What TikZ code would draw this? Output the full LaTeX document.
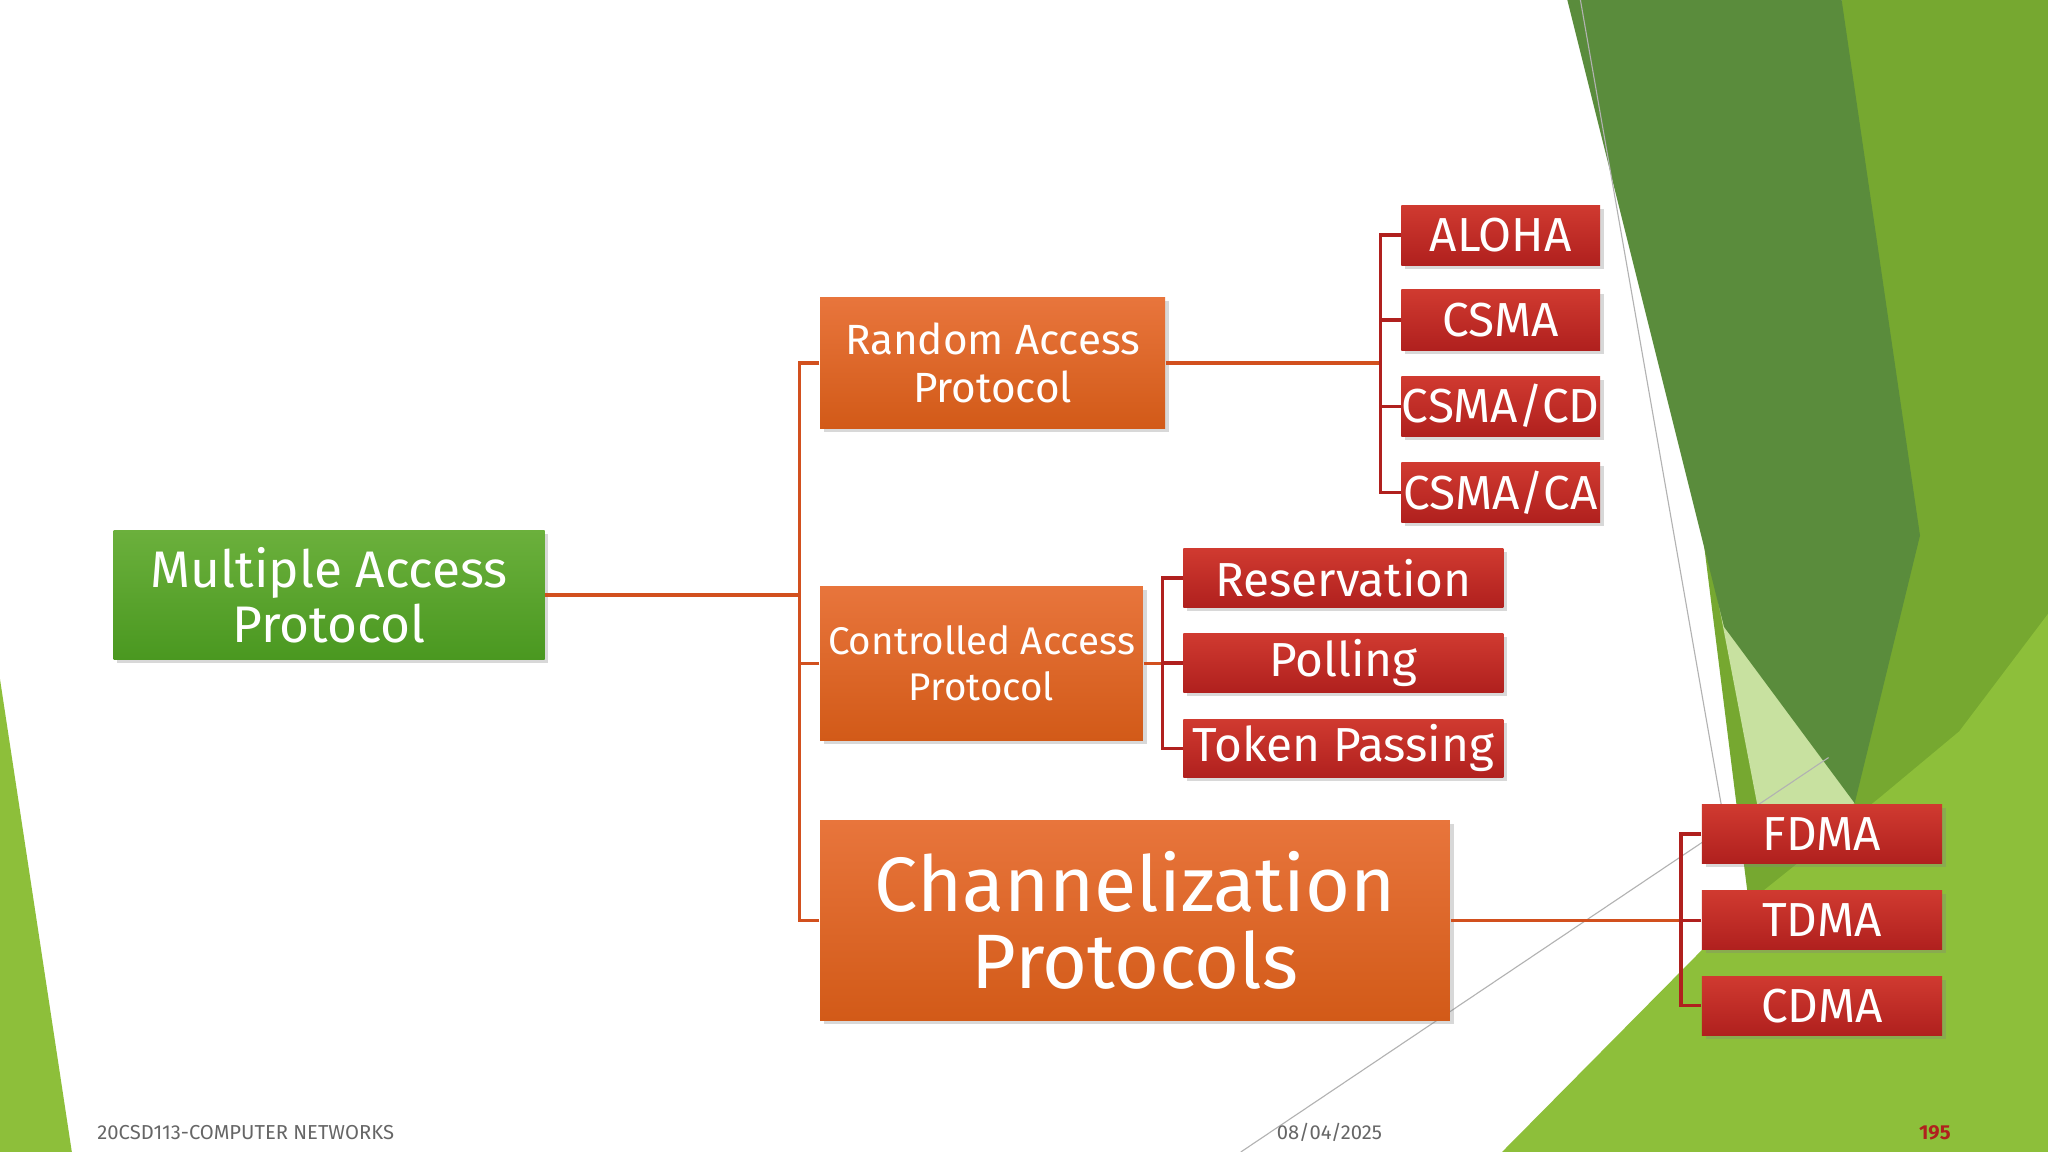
\documentclass[tikz,border=0pt]{standalone}
\usepackage{fontspec}
\setmainfont{Fira Sans}
\usetikzlibrary{shadows}
\definecolor{og1}{HTML}{E8753C}\definecolor{og2}{HTML}{D25A18}
\definecolor{gr1}{HTML}{6BB03C}\definecolor{gr2}{HTML}{4A9820}
\definecolor{rd1}{HTML}{D03A30}\definecolor{rd2}{HTML}{B0201E}
\definecolor{ln}{HTML}{D2501E}
\tikzset{
 box/.style={inner sep=0pt,align=center,text=white,drop shadow={shadow xshift=1pt,shadow yshift=-1pt,opacity=0.3}},
 orange/.style={box,top color=og1,bottom color=og2},
 green/.style={box,top color=gr1,bottom color=gr2},
 red/.style={box,top color=rd1,bottom color=rd2,font=\fontsize{13}{15}\selectfont},
 conn/.style={draw=ln,line width=0.9pt},
 foot/.style={inner sep=0pt,font=\fontsize{5.5}{6}\selectfont,text=gray!80!black}
}
\begin{document}
\begin{tikzpicture}[x=0.0125cm,y=-0.0125cm]
\useasboundingbox (0,0) rectangle (1568,882);
\fill[white] (0,0) rectangle (1568,882);
% background shapes
\fill[color={rgb,255:red,118;green,168;blue,48}] (1410,0)--(1568,0)--(1568,882)--(1340,700)--(1300,380)--cycle;
\fill[color={rgb,255:red,200;green,225;blue,160}] (1300,380)--(1330,420)--(1420,615)--(1350,640)--cycle;
\fill[color={rgb,255:red,90;green,140;blue,60}] (1200,0)--(1410,0)--(1470,410)--(1420,615)--(1320,480)--cycle;
\fill[color={rgb,255:red,141;green,191;blue,58}] (1150,882)--(1568,882)--(1568,470)--(1500,560)--(1440,610)--(1340,690)--cycle;
\fill[color={rgb,255:red,141;green,191;blue,58}] (0,520)--(55,882)--(0,882)--cycle;
\draw[gray!60,line width=0.3pt] (1210,0)--(1322,640);
\draw[gray!60,line width=0.3pt] (950,882)--(1400,580);
% nodes
\node[green,minimum width=4.125cm,minimum height=1.2375cm,font=\fontsize{14}{15}\selectfont] (ma) at (252,455.5) {Multiple Access\\Protocol};
\node[orange,minimum width=3.3cm,minimum height=1.25cm,font=\fontsize{11.5}{13}\selectfont] (ra) at (760,278) {Random Access\\Protocol};
\node[orange,minimum width=3.0875cm,minimum height=1.475cm,font=\fontsize{10.5}{12.5}\selectfont] (ca) at (751.5,508) {Controlled Access\\Protocol};
\node[orange,minimum width=6.025cm,minimum height=1.9125cm,font=\fontsize{21}{21}\selectfont] (ch) at (869,704.5) {Channelization\\Protocols};
\node[red,minimum width=1.9cm,minimum height=0.575cm] (r1) at (1149,180) {ALOHA};
\node[red,minimum width=1.9cm,minimum height=0.575cm] (r2) at (1149,245) {CSMA};
\node[red,minimum width=1.9cm,minimum height=0.575cm] (r3) at (1149,311) {CSMA/CD};
\node[red,minimum width=1.9cm,minimum height=0.575cm] (r4) at (1149,377) {CSMA/CA};
\node[red,minimum width=3.0625cm,minimum height=0.5625cm] (c1) at (1028.5,442.5) {Reservation};
\node[red,minimum width=3.0625cm,minimum height=0.5625cm] (c2) at (1028.5,507.5) {Polling};
\node[red,minimum width=3.0625cm,minimum height=0.5625cm] (c3) at (1028.5,573) {Token Passing};
\node[red,minimum width=2.3cm,minimum height=0.5625cm] (h1) at (1395,638.5) {FDMA};
\node[red,minimum width=2.3cm,minimum height=0.5625cm] (h2) at (1395,704.5) {TDMA};
\node[red,minimum width=2.3cm,minimum height=0.5625cm] (h3) at (1395,770) {CDMA};
% connectors
\coordinate (b1) at (612,455.5);
\coordinate (b2) at (1057,278);
\coordinate (b3) at (890,508);
\coordinate (b4) at (1287,704.5);
\draw[conn] (ma.east)--(b1);
\draw[conn] (ra.west)-|(b1);
\draw[conn] (ca.west)-|(b1);
\draw[conn] (ch.west)-|(b1);
\draw[conn] (ra.east)--(b2);
\foreach \n in {r1,r2,r3,r4} \draw[conn,draw=rd2] (\n.west)-|(b2);
\draw[conn] (ca.east)--(b3);
\foreach \n in {c1,c2,c3} \draw[conn,draw=rd2] (\n.west)-|(b3);
\draw[conn] (ch.east)--(b4);
\foreach \n in {h1,h2,h3} \draw[conn,draw=rd2] (\n.west)-|(b4);
% footer
\node[foot,anchor=west] (f1) at (74,867) {20CSD113-COMPUTER NETWORKS};
\node[foot,anchor=west] (f2) at (977,867) {08/04/2025};
\node[foot,anchor=east,text=rd2,font=\bfseries\fontsize{5.5}{6}\selectfont] (f3) at (1494,867) {195};
\end{tikzpicture}
\end{document}
